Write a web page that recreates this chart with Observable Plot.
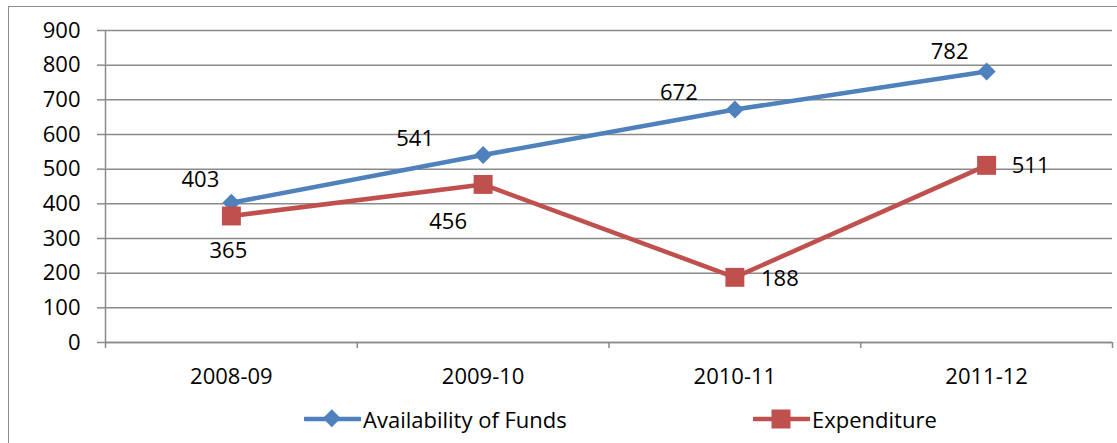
<!DOCTYPE html>
<html><head><meta charset="utf-8">
<script src="https://cdn.jsdelivr.net/npm/d3@7"></script>
<script src="https://cdn.jsdelivr.net/npm/@observablehq/plot@0.6"></script>
<style>
body{margin:0;background:#fff;font-family:"Open Sans",sans-serif;}
#wrap{position:relative;width:1117px;height:443px;overflow:hidden;background:#fff;}
#frame{position:absolute;left:8px;top:6px;width:1120px;height:450px;border:1px solid #8c8c8c;box-sizing:border-box;}
#chart{position:absolute;left:0;top:0;}
#legend{position:absolute;left:0;top:395px;width:1117px;height:48px;}
.item{position:absolute;top:0;height:48px;display:flex;align-items:center;font-size:22px;color:#000;white-space:nowrap;}
.item svg{margin-right:2px;}
</style></head><body>
<div id="wrap"><div id="frame"></div><div id="chart"></div><div id="legend"></div></div>
<script>
const periods = ["2008-09", "2009-10", "2010-11", "2011-12"];
const availability = [403, 541, 672, 782];
const expenditure = [365, 456, 188, 511];
const yTicks = [0, 100, 200, 300, 400, 500, 600, 700, 800, 900];
const seriesNames = ["Availability of Funds", "Expenditure"];
const seriesColors = ["#4f81bd", "#c0504d"];

const rows = [];
periods.forEach((p, i) => {
  rows.push({series: seriesNames[0], i, x: i + 0.5, value: availability[i]});
});
periods.forEach((p, i) => {
  rows.push({series: seriesNames[1], i, x: i + 0.5, value: expenditure[i]});
});
const availRows = rows.filter(d => d.series === seriesNames[0]);
const expRows = rows.filter(d => d.series === seriesNames[1]);

// label offsets (pixel placement, like the original's data labels)
const availOffsets = [[-31, -23], [-68, -16], [-56, -17], [-37, -19]];
const expOffsets = [[-3, 35], [-35, 38], [45, 2], [44, 1]];

const gray = "#8a8a8a";
const labelMarks = [];
availRows.forEach((d, k) => labelMarks.push(Plot.text([d], {x: "x", y: "value", text: d => String(d.value), dx: availOffsets[k][0], dy: availOffsets[k][1], fill: "#000", fontSize: 22})));
expRows.forEach((d, k) => labelMarks.push(Plot.text([d], {x: "x", y: "value", text: d => String(d.value), dx: expOffsets[k][0], dy: expOffsets[k][1], fill: "#000", fontSize: 22})));

const chart = Plot.plot({
  width: 1117, height: 395,
  marginLeft: 105, marginRight: 5, marginTop: 30, marginBottom: 53,
  style: {fontFamily: "Open Sans", fontSize: "22px", color: "#000", background: "transparent", overflow: "visible"},
  x: {type: "linear", domain: [0, periods.length], axis: null},
  y: {domain: [0, 900], axis: null},
  color: {domain: seriesNames, range: seriesColors},
  marks: [
    Plot.gridY(yTicks, {stroke: gray, strokeOpacity: 1, strokeWidth: 1.5}),
    Plot.axisY(yTicks, {tickSize: 8, tickPadding: 17, stroke: gray, strokeWidth: 1.5, fill: "#000", fontSize: 22, label: null}),
    Plot.ruleX([0], {stroke: gray, strokeWidth: 1.5}),
    Plot.ruleY([0], {stroke: gray, strokeWidth: 1.5}),
    Plot.axisX(d3.range(periods.length + 1), {tickSize: 6, tickFormat: () => "", stroke: gray, strokeWidth: 1.5, label: null}),
    Plot.axisX(periods.map((p, i) => i + 0.5), {tickSize: 0, tickPadding: 26, tickFormat: v => periods[Math.floor(v)], fill: "#000", fontSize: 22, label: null}),
    Plot.line(rows, {x: "x", y: "value", z: "series", stroke: "series", strokeWidth: 4.5}),
    Plot.dot(availRows, {x: "x", y: "value", symbol: "square", rotate: 45, r: 7.2, fill: seriesColors[0], stroke: null}),
    Plot.dot(expRows, {x: "x", y: "value", symbol: "square", r: 10.7, fill: seriesColors[1], stroke: null}),
    ...labelMarks
  ]
});
document.getElementById("chart").appendChild(chart);

// legend
const legend = document.getElementById("legend");
const legendLeft = [304, 753];
seriesNames.forEach((name, k) => {
  const item = document.createElement("div");
  item.className = "item";
  item.style.left = legendLeft[k] + "px";
  const sw = k === 0
    ? `<svg width="57" height="24"><line x1="1" y1="12" x2="56" y2="12" stroke="${seriesColors[k]}" stroke-width="4.5" stroke-linecap="round"/><rect x="21.1" y="5.6" width="12.7" height="12.7" fill="${seriesColors[k]}" transform="rotate(45 28.5 12)"/></svg>`
    : `<svg width="57" height="24"><line x1="1" y1="12" x2="56" y2="12" stroke="${seriesColors[k]}" stroke-width="4.5" stroke-linecap="round"/><rect x="18.5" y="2.5" width="19" height="19" fill="${seriesColors[k]}"/></svg>`;
  item.innerHTML = sw + `<span>${name}</span>`;
  legend.appendChild(item);
});
</script>
</body></html>
